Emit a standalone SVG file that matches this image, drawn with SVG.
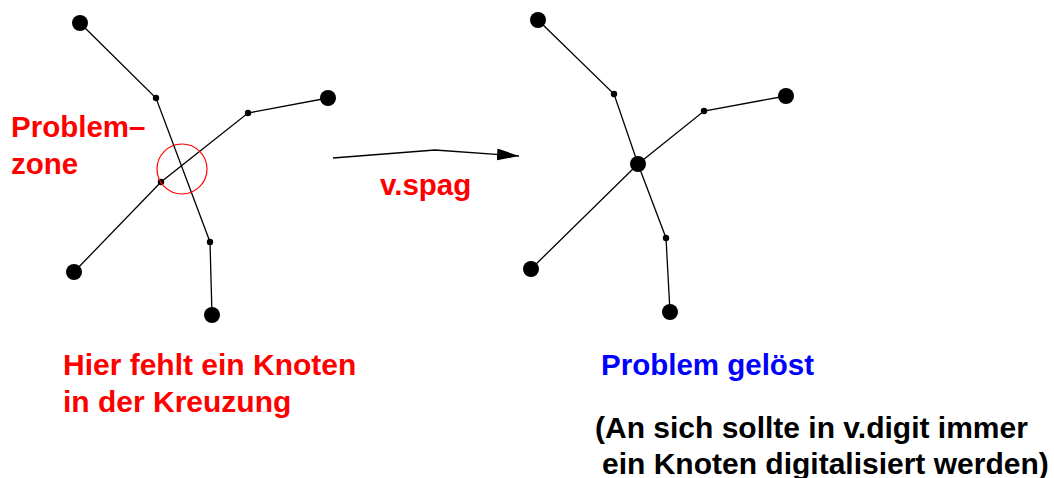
<svg xmlns="http://www.w3.org/2000/svg" width="1054" height="478" viewBox="0 0 1054 478">
<style>
.e{fill:none;stroke:#000;stroke-width:1.3}
.big{fill:#000}
.sm{fill:#000}
.t{font-family:"Liberation Sans",Arial,sans-serif;font-weight:bold;font-size:29.5px}
.l{font-size:30px}
.red{fill:#ff0000}
.blue{fill:#0000ff}
.blk{fill:#000}
</style>
<defs>
<marker id="ah" markerUnits="userSpaceOnUse" markerWidth="24" markerHeight="14" refX="22" refY="6" orient="auto">
<path d="M0,0 L22,6 L0,12 Z" fill="#000"/>
</marker>
</defs>
<g id="connectors">
<polyline class="e" points="80,23 156,98 210,242 212,315"/>
<polyline class="e" points="328,98 248,113 161,182 74,272"/>
<polyline class="e" points="538,20 614,94 638,164 666,238 670,312"/>
<polyline class="e" points="786,96 704,111 638,164 531,269"/>
<polyline class="e" points="333,158 435,150 519,156" marker-end="url(#ah)"/>
</g>
<g id="left-graph">
<circle class="big" cx="80" cy="23" r="8"/>
<circle class="sm" cx="156" cy="98" r="3.2"/>
<circle class="sm" cx="248" cy="113" r="3.2"/>
<circle class="big" cx="328" cy="98" r="8"/>
<circle class="sm" cx="161" cy="182" r="3.2"/>
<circle class="big" cx="74" cy="272" r="8"/>
<circle class="sm" cx="210" cy="242" r="3.2"/>
<circle class="big" cx="212" cy="315" r="8"/>
</g>
<g id="problem-zone">
<circle cx="182" cy="169" r="25" fill="none" stroke="#ff0000" stroke-width="1.2"/>
<text class="t red" x="11" y="137">Problem–</text>
<text class="t red" x="11" y="174">zone</text>
</g>
<g id="right-graph">
<circle class="big" cx="538" cy="20" r="8"/>
<circle class="sm" cx="614" cy="94" r="3.2"/>
<circle class="sm" cx="704" cy="111" r="3.2"/>
<circle class="big" cx="786" cy="96" r="8"/>
<circle class="big" cx="638" cy="164" r="8"/>
<circle class="big" cx="531" cy="269" r="8"/>
<circle class="sm" cx="666" cy="238" r="3.2"/>
<circle class="big" cx="670" cy="312" r="8"/>
</g>
<g id="label-vspag">
<text class="t red" x="380" y="195">v.spag</text>
</g>
<g id="label-left">
<text class="t l red" x="63" y="375">Hier fehlt ein Knoten</text>
<text class="t l red" x="63" y="412">in der Kreuzung</text>
</g>
<g id="label-right">
<text class="t blue" x="601" y="375">Problem gelöst</text>
<text class="t l blk" x="595" y="438">(An sich sollte in v.digit immer</text>
<text class="t l blk" x="602" y="474">ein Knoten digitalisiert werden)</text>
</g>
</svg>
